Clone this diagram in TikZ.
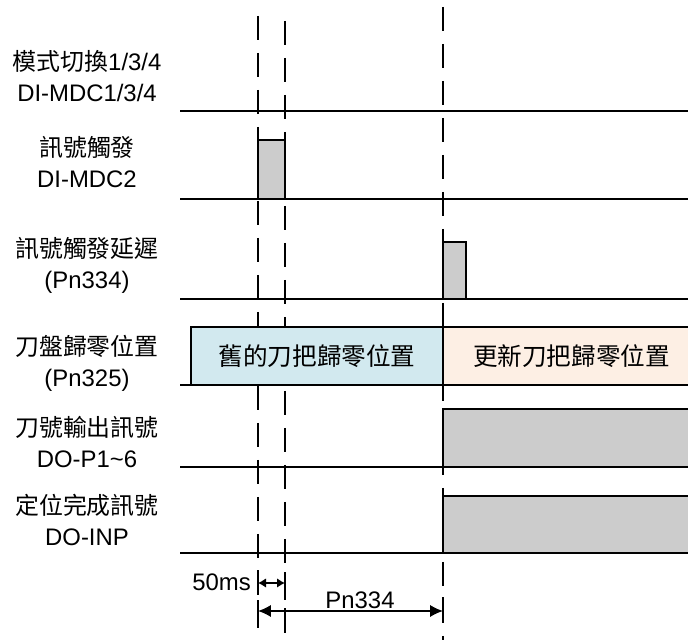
\documentclass[tikz,border=0pt]{standalone}
\usepackage{fontspec}
\setmainfont{Liberation Sans}
\newfontfamily\cjk{Noto Sans CJK TC}
\usetikzlibrary{arrows.meta}
\definecolor{pulsegray}{RGB}{204,204,204}
\definecolor{oldblue}{RGB}{210,233,239}
\definecolor{newpeach}{RGB}{253,239,228}

\begin{document}
\begin{tikzpicture}[
    sig/.style={line width=1pt},
    guide/.style={line width=1pt, dash pattern=on 0.6cm off 0.325cm},
    tick/.style={line width=1pt},
    pulse/.style={draw, line width=1pt, fill=pulsegray},
    lbl/.style={align=center, font=\fontsize{17}{22}\selectfont},
    posbox/.style={draw, line width=1pt, minimum height=1.45cm, inner sep=0pt, font=\cjk\fontsize{17.5}{20}\selectfont},
    dim/.style={{Latex[length=0.32cm,width=0.3cm]}-{Latex[length=0.32cm,width=0.3cm]}, line width=1pt},
    dimsmall/.style={{Latex[length=0.2cm,width=0.24cm]}-{Latex[length=0.2cm,width=0.24cm]}, line width=1pt}
]
    \useasboundingbox (0,0) rectangle (17.2,16);

    % signal names
    \node[lbl] (mdc134) at (2.175,14.09) {{\cjk 模式切換}1/3/4\\DI-MDC1/3/4};
    \node[lbl] (mdc2)   at (2.175,11.94) {{\cjk 訊號觸發}\\DI-MDC2};
    \node[lbl] (delay)  at (2.175,9.36)  {{\cjk 訊號觸發延遲}\\(Pn334)};
    \node[lbl] (zero)   at (2.175,6.925) {{\cjk 刀盤歸零位置}\\(Pn325)};
    \node[lbl] (toolno) at (2.175,4.94)  {{\cjk 刀號輸出訊號}\\DO-P1\textasciitilde6};
    \node[lbl] (inp)    at (2.175,3.0)   {{\cjk 定位完成訊號}\\DO-INP};

    % time instants
    \coordinate (g1top) at (6.45,15.6);
    \coordinate (g1bot) at (6.45,0.3);
    \coordinate (g2top) at (7.125,15.475);
    \coordinate (g2bot) at (7.125,0.175);
    \coordinate (g3top) at (11.075,15.825);
    \coordinate (g3bot) at (11.075,0);

    \draw[guide] (g1top) -- (g1bot);
    \draw[guide] (g2top) -- (g2bot);
    \draw[guide] (g3top) -- (g3bot);

    % base lines
    \foreach \y in {13.225, 11.025, 8.525, 6.375, 4.325, 2.175}
        \draw[sig] (4.5,\y) -- (17.2,\y);

    % pulses
    \draw[pulse] (6.45,11.025) rectangle (7.125,12.5);
    \draw[pulse] (11.075,8.525) rectangle (11.65,9.95);
    \draw[pulse] (11.075,4.325) rectangle (17.4,5.775);
    \draw[pulse] (11.075,2.175) rectangle (17.4,3.6);

    % zero position
    \node[posbox, fill=oldblue, minimum width=6.3cm] (oldpos) at (7.925,7.1) {舊的刀把歸零位置};
    \node[posbox, fill=newpeach, minimum width=6.425cm] (newpos) at (14.2875,7.1) {更新刀把歸零位置};

    % timing
    \coordinate (a50) at (6.45,1.425);
    \coordinate (b50) at (7.125,1.425);
    \coordinate (apn) at (6.45,0.725);
    \coordinate (bpn) at (11.075,0.725);
    \draw[tick] (6.45,1.15) -- (6.45,1.75);
    \draw[tick] (7.125,1.15) -- (7.125,1.7);
    \draw[tick] (6.45,0.35) -- (6.45,1.0);
    \draw[tick] (7.125,0.2) -- (7.125,0.8);
    \draw[tick] (11.075,0.5) -- (11.075,1.075);
    \draw[dimsmall] (a50) -- (b50);
    \draw[dim] (apn) -- (bpn);
    \node[lbl] (t50) at (5.54,1.45) {50ms};
    \node[lbl] (tpn) at (9.0,1.0) {Pn334};
\end{tikzpicture}
\end{document}
